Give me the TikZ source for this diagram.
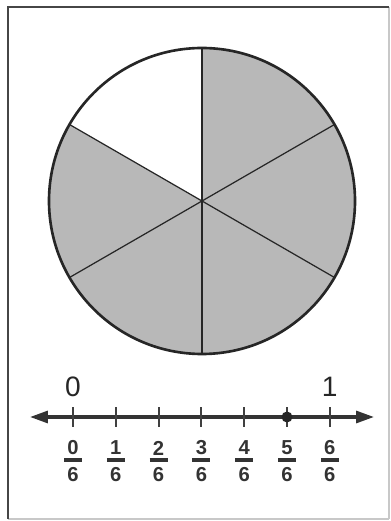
\documentclass[tikz,border=0pt]{standalone}
\usepackage{fontspec}
\setmainfont{Liberation Sans}
\usetikzlibrary{arrows.meta,calc}
\definecolor{pie}{RGB}{184,184,184}
\definecolor{framedark}{RGB}{70,70,70}
\definecolor{framelight}{RGB}{200,200,200}
\begin{document}
\begin{tikzpicture}[x=0.02cm,y=0.02cm,
  bigl/.style={font=\fontsize{16}{18}\selectfont, text=black!85},
  fracn/.style={font=\fontsize{11.5}{13}\selectfont\bfseries, text=black!80, inner sep=0pt},
  tickline/.style={line width=1.1pt, black!75},
  radial/.style={line width=0.7pt, black!85}]
\useasboundingbox (0,0) rectangle (391,521);
% frame
\draw[framelight, line width=0.8pt] (389,514) -- (389,2) ;
\draw[framelight, line width=0.8pt] (8,2) -- (389,2);
\draw[framedark, line width=1.3pt] (8,2) -- (8,514) -- (389,514);
% pie
\coordinate (c) at (202,320);
\fill[pie] (c) -- ($(c)+(-210:153)$) arc[start angle=-210, end angle=90, radius=153] -- cycle;
\foreach \a in {90,30,-30,-90,-150,150}
  \draw[radial] (c) -- ($(c)+(\a:153)$);
\draw[line width=1.5pt, black!85] (c) circle[radius=153];
% number line
\coordinate (L) at (30,104);
\coordinate (R) at (374,104);
\draw[line width=1.8pt, black!80, {Triangle[length=0.36cm,width=0.24cm]}-{Triangle[length=0.36cm,width=0.24cm]}] (L) -- (R);
\foreach \i in {0,...,6}{
  \pgfmathsetmacro{\xx}{73+\i*42.8}
  \coordinate (t\i) at (\xx,104);
  \draw[tickline] ($(t\i)+(0,-10)$) -- ($(t\i)+(0,10)$);
  \node[fracn] (n\i) at ($(t\i)+(0,-31)$) {\i};
  \draw[line width=2.6pt, black!80] ($(t\i)+(-9,-43)$) -- ($(t\i)+(9,-43)$);
  \node[fracn] (d\i) at ($(t\i)+(0,-58)$) {6};
}
\fill[black!85] (t5) circle[radius=5.5];
\node[bigl] (zero) at ($(t0)+(0,30)$) {0};
\node[bigl] (one) at ($(t6)+(0,30)$) {1};
\end{tikzpicture}
\end{document}
